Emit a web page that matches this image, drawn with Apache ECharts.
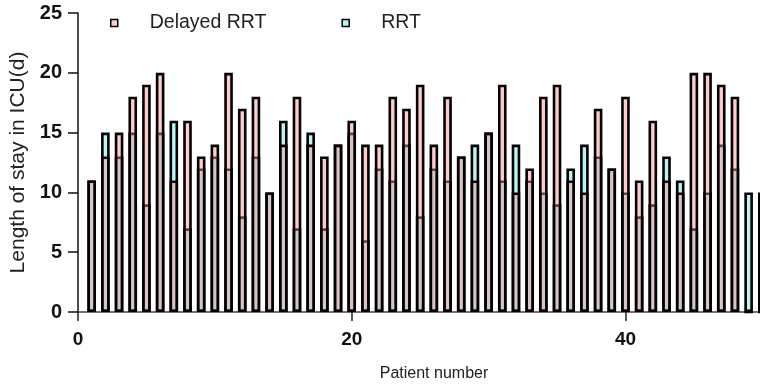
<!DOCTYPE html>
<html>
<head>
<meta charset="utf-8">
<script src="https://cdn.jsdelivr.net/npm/echarts@6/dist/echarts.min.js"></script>
<style>html,body{margin:0;padding:0;background:#fff}#c{width:760px;height:387px}</style>
</head>
<body>
<div id="c"></div>
<script>
var patients = [1,2,3,4,5,6,7,8,9,10,11,12,13,14,15,16,17,18,19,20,21,22,23,24,25,26,27,28,29,30,31,32,33,34,35,36,37,38,39,40,41,42,43,44,45,46,47,48,49,50];
var delayedRRT = [11,13,15,18,19,20,11,16,13,14,20,17,18,10,14,18,14,13,14,16,14,14,18,17,19,14,18,13,11,15,19,10,12,18,19,11,10,17,12,18,11,16,11,10,20,20,19,18,0,0];
var rrt = [11,15,13,15,9,15,16,7,12,13,12,8,13,10,16,7,15,7,14,15,6,12,11,14,8,12,11,13,14,15,11,14,11,10,9,12,14,13,12,10,8,9,13,11,7,10,14,12,10,10];
var xTicks = [0,20,40];
var yTicks = [0,5,10,15,20,25];

var chart = echarts.init(document.getElementById('c'), null, {renderer:'canvas'});
var font = 'Arial, "Liberation Sans", sans-serif';
chart.setOption({
  animation:false,
  backgroundColor:'#fff',
  legend:{
    data:['Delayed RRT','RRT'],
    left:105, top:8,
    icon:'rect', itemWidth:7, itemHeight:7, itemGap:75,
    itemStyle:{borderColor:'#000',borderWidth:1.5},
    textStyle:{fontFamily:font,fontSize:19.5,color:'#222',padding:[0,0,0,27]}
  },
  grid:{left:78, top:13, width:698, height:299, containLabel:false, outerBoundsMode:'none'},
  xAxis:{
    type:'value', min:0, max:51, interval:20,
    name:'Patient number', nameLocation:'middle', nameGap:54,
    nameTextStyle:{fontFamily:font,fontSize:16,color:'#222',padding:[0,0,0,14]},
    axisLine:{lineStyle:{color:'#444',width:1.5}},
    axisTick:{show:true,length:9,lineStyle:{color:'#222',width:1.5}},
    splitLine:{show:false},
    axisLabel:{fontFamily:font,fontSize:19,fontWeight:'bold',color:'#111',margin:18,
      formatter:function(v){return xTicks.indexOf(v)>=0?String(v):'';}}
  },
  yAxis:{
    type:'value', min:0, max:25, interval:5,
    name:'Length of stay in ICU(d)', nameLocation:'middle', nameGap:48,
    nameTextStyle:{fontFamily:font,fontSize:21,color:'#222'},
    axisLine:{show:true,lineStyle:{color:'#111',width:1.5}},
    axisTick:{show:true,length:10,lineStyle:{color:'#111',width:1.5}},
    splitLine:{show:false},
    axisLabel:{fontFamily:font,fontSize:20,fontWeight:'bold',color:'#111',margin:16,
      formatter:function(v){return yTicks.indexOf(v)>=0?String(v):'';}}
  },
  series:[
    {
      name:'RRT', type:'bar', barWidth:8.6, barGap:'-100%',
      data:patients.map(function(p,i){return [p,rrt[i]];}),
      itemStyle:{color:'rgb(185,245,245)',borderColor:'#000',borderWidth:2.6}
    },
    {
      name:'Delayed RRT', type:'bar', barWidth:8.6, barGap:'-100%',
      data:patients.map(function(p,i){return [p,delayedRRT[i]];}),
      itemStyle:{color:'rgba(255,140,140,0.45)',borderColor:'#000',borderWidth:2.6}
    }
  ]
});
</script>
</body>
</html>
